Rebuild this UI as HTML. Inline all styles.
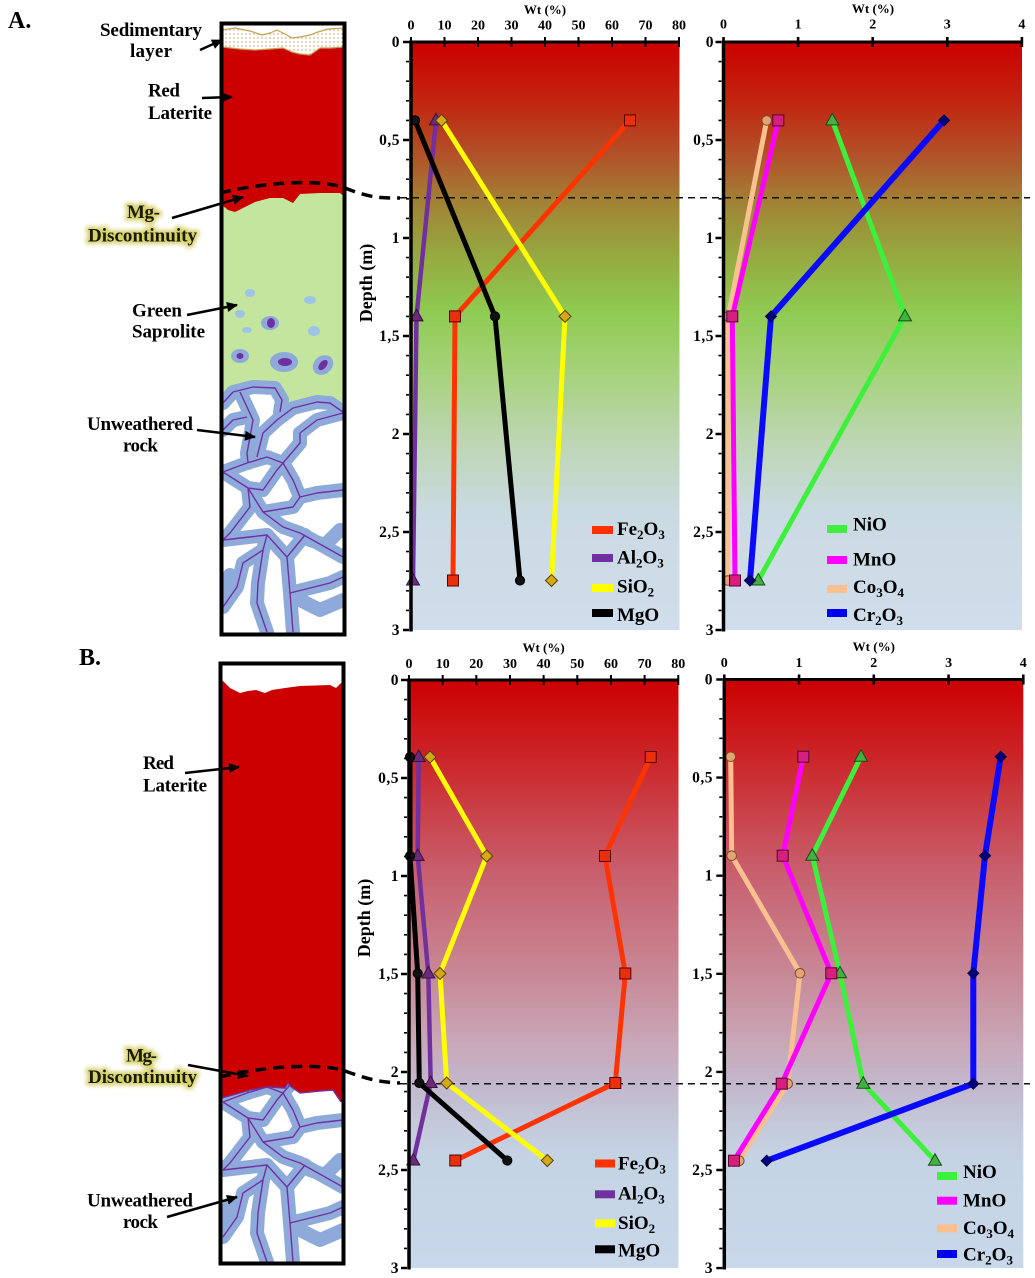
<!DOCTYPE html>
<html><head><meta charset="utf-8">
<style>
html,body{margin:0;padding:0;background:#fff;}
svg{display:block;}
text{font-family:"Liberation Serif","DejaVu Serif",serif;font-weight:bold;fill:#000;}
</style></head><body>
<svg width="1035" height="1278" viewBox="0 0 1035 1278" xmlns="http://www.w3.org/2000/svg">
<defs>
<linearGradient id="gA" x1="0" y1="0" x2="0" y2="1">
 <stop offset="0" stop-color="#cc0000"/>
 <stop offset="0.1" stop-color="#c22410"/>
 <stop offset="0.2" stop-color="#b0562a"/>
 <stop offset="0.28" stop-color="#a08636"/>
 <stop offset="0.36" stop-color="#96a83f"/>
 <stop offset="0.46" stop-color="#8fcb52"/>
 <stop offset="0.56" stop-color="#a6d27a"/>
 <stop offset="0.68" stop-color="#bdd6b4"/>
 <stop offset="0.8" stop-color="#cadae2"/>
 <stop offset="1" stop-color="#d0ddec"/>
</linearGradient>
<linearGradient id="gB" x1="0" y1="0" x2="0" y2="1">
 <stop offset="0" stop-color="#cc0000"/>
 <stop offset="0.15" stop-color="#cb2a2e"/>
 <stop offset="0.33" stop-color="#c8606e"/>
 <stop offset="0.5" stop-color="#c88896"/>
 <stop offset="0.62" stop-color="#c9a8b8"/>
 <stop offset="0.69" stop-color="#c2b8cc"/>
 <stop offset="0.76" stop-color="#c4cadc"/>
 <stop offset="0.82" stop-color="#c4d4e4"/>
 <stop offset="1" stop-color="#c8d8ea"/>
</linearGradient>
<pattern id="dots" width="4" height="4" patternUnits="userSpaceOnUse"><rect width="4" height="4" fill="#fffdf6"/><circle cx="2" cy="2" r="0.6" fill="#8a8070"/></pattern>
<filter id="glow" x="-20%" y="-60%" width="140%" height="220%"><feGaussianBlur stdDeviation="2.2"/></filter>
<clipPath id="clipA"><rect x="223" y="25" width="121" height="608"/></clipPath>
<clipPath id="clipB"><rect x="222" y="665" width="121" height="597"/></clipPath>

<marker id="arr" markerUnits="userSpaceOnUse" markerWidth="12" markerHeight="10" refX="10" refY="5" orient="auto" overflow="visible"><path d="M0,0 L11,5 L0,10 Z" fill="#000"/></marker>

<marker id="mFe" markerUnits="userSpaceOnUse" markerWidth="14" markerHeight="14" refX="7" refY="7" overflow="visible"><rect x="1.5" y="1.5" width="11" height="11" fill="#e8300f" stroke="#5a0000" stroke-width="1"/></marker>
<marker id="mAl" markerUnits="userSpaceOnUse" markerWidth="14" markerHeight="14" refX="7" refY="8" overflow="visible"><path d="M7,1 L13.5,12.5 L0.5,12.5 Z" fill="#6a2c7a" stroke="#3a1046" stroke-width="1"/></marker>
<marker id="mSi" markerUnits="userSpaceOnUse" markerWidth="14" markerHeight="14" refX="7" refY="7" overflow="visible"><path d="M7,1 L13,7 L7,13 L1,7 Z" fill="#d4a817" stroke="#5a4000" stroke-width="1"/></marker>
<marker id="mMg" markerUnits="userSpaceOnUse" markerWidth="14" markerHeight="14" refX="7" refY="7" overflow="visible"><circle cx="7" cy="7" r="4.6" fill="#111" stroke="#000" stroke-width="1"/></marker>
<marker id="mNi" markerUnits="userSpaceOnUse" markerWidth="14" markerHeight="14" refX="7" refY="8" overflow="visible"><path d="M7,1 L13.5,12.5 L0.5,12.5 Z" fill="#44b044" stroke="#105010" stroke-width="1"/></marker>
<marker id="mMn" markerUnits="userSpaceOnUse" markerWidth="14" markerHeight="14" refX="7" refY="7" overflow="visible"><rect x="1.5" y="1.5" width="11" height="11" fill="#d6207e" stroke="#5a0030" stroke-width="1"/></marker>
<marker id="mCo" markerUnits="userSpaceOnUse" markerWidth="14" markerHeight="14" refX="7" refY="7" overflow="visible"><circle cx="7" cy="7" r="4.8" fill="#e4a472" stroke="#7a4a28" stroke-width="1"/></marker>
<marker id="mCr" markerUnits="userSpaceOnUse" markerWidth="14" markerHeight="14" refX="7" refY="7" overflow="visible"><path d="M7,1.5 L12.5,7 L7,12.5 L1.5,7 Z" fill="#00007a" stroke="#000050" stroke-width="1"/></marker>

<g id="rock">
 <path d="M222,402 L235,389 L255,383 L275,386 L285,403 L300,399 L320,397 L335,401 L344,409 L344,634 L222,634 Z" fill="#ffffff"/>
 <g fill="none" stroke="#8eaadb" stroke-width="14" stroke-linecap="round" stroke-linejoin="round">
  <polyline points="223,403 233,392 253,387 275,388 282,400 280,412"/>
  <polyline points="240,392 247,407 253,420 250,437 247,453 248,463"/>
  <polyline points="223,430 233,420 247,417"/>
  <polyline points="257,457 263,433 277,420 293,408 317,402 330,403 343,412"/>
  <polyline points="300,433 317,420 343,413"/>
  <polyline points="283,463 300,443 300,433"/>
  <polyline points="223,472 247,463 267,457 283,463 277,470 263,490 248,488 223,472"/>
  <polyline points="283,463 293,480 300,497 293,507 263,512 248,488"/>
  <polyline points="300,497 317,493 343,490"/>
  <polyline points="248,488 250,507 240,520 230,533 223,540"/>
  <polyline points="263,512 283,527 300,533 343,557"/>
  <polyline points="223,540 267,535 287,557 290,593 330,583 343,577"/>
  <polyline points="267,535 263,550 243,563 237,587 223,607"/>
  <polyline points="287,557 305,535"/>
  <polyline points="263,550 258,583 257,603 267,632"/>
  <polyline points="290,593 293,632"/>
  <polyline points="223,590 230,575"/>
  <polyline points="310,540 325,545 340,530"/>
  <polyline points="300,600 320,610 343,600"/>
 </g>
 <g fill="none" stroke="#7030a0" stroke-width="1.4" stroke-linejoin="round">
  <polyline points="223,403 233,392 253,387 275,388 282,400 280,412"/>
  <polyline points="240,392 247,407 253,420 250,437 247,453 248,463"/>
  <polyline points="223,430 233,420 247,417"/>
  <polyline points="257,457 263,433 277,420 293,408 317,402 330,403 343,412"/>
  <polyline points="300,433 317,420 343,413"/>
  <polyline points="283,463 300,443 300,433"/>
  <polyline points="223,472 247,463 267,457 283,463 277,470 263,490 248,488 223,472"/>
  <polyline points="283,463 293,480 300,497 293,507 263,512 248,488"/>
  <polyline points="300,497 317,493 343,490"/>
  <polyline points="248,488 250,507 240,520 230,533 223,540"/>
  <polyline points="263,512 283,527 300,533 343,557"/>
  <polyline points="223,540 267,535 287,557 290,593 330,583 343,577"/>
  <polyline points="267,535 263,550 243,563 237,587 223,607"/>
  <polyline points="287,557 305,535"/>
  <polyline points="263,550 258,583 257,603 267,632"/>
  <polyline points="290,593 293,632"/>
 </g>
</g>
</defs>

<!-- ============ SCHEMATIC A ============ -->
<g clip-path="url(#clipA)">
 <rect x="222" y="24" width="123" height="612" fill="#fff"/>
 <rect x="222" y="188" width="123" height="448" fill="#c3e59e"/>
 <ellipse cx="250" cy="293" rx="5" ry="4" fill="#9dc3e6"/>
 <ellipse cx="310" cy="300" rx="6" ry="4" fill="#9dc3e6"/>
 <ellipse cx="240" cy="314" rx="5" ry="4" fill="#9dc3e6"/>
 <ellipse cx="247" cy="330" rx="5" ry="3" fill="#9dc3e6"/>
 <ellipse cx="314" cy="331" rx="6" ry="5" fill="#9dc3e6"/>
 <ellipse cx="270" cy="323" rx="9" ry="7" fill="#8eaadb"/>
 <ellipse cx="271" cy="323" rx="4" ry="5" fill="#7030a0"/>
 <ellipse cx="240" cy="356" rx="9" ry="7" fill="#8eaadb"/>
 <ellipse cx="240" cy="356" rx="3.5" ry="3" fill="#7030a0"/>
 <ellipse cx="284" cy="362" rx="14" ry="10" fill="#8eaadb"/>
 <ellipse cx="285" cy="362" rx="7" ry="4" fill="#7030a0"/>
 <ellipse cx="323" cy="365" rx="11" ry="9" fill="#8eaadb" transform="rotate(-40 323 365)"/>
 <ellipse cx="323" cy="365" rx="6" ry="3.5" fill="#7030a0" transform="rotate(-50 323 365)"/>
 <use href="#rock"/>
 <path d="M222,47 L240,49 L255,50 L270,49 L283,48 L292,52 L300,54 L310,55 L320,48 L330,48 L345,47 L345,197 L340,193 L320,193 L300,194 L293,203 L283,198 L270,198 L255,202 L245,207 L235,212 L228,210 L222,205 Z" fill="#cc0000"/>
 <path d="M222,30 L235,28 L250,31 L262,35 L270,33 L277,30 L285,34 L292,38 L300,37 L310,35 L318,32 L328,29 L345,28 L345,47 L330,48 L320,48 L310,55 L300,54 L292,52 L283,48 L270,49 L255,50 L240,49 L222,47 Z" fill="url(#dots)" stroke="#c8a050" stroke-width="1.2"/>
</g>
<rect x="221.5" y="23.5" width="123" height="611" fill="none" stroke="#000" stroke-width="4"/>

<!-- ============ SCHEMATIC B ============ -->
<g clip-path="url(#clipB)">
 <rect x="222" y="664" width="123" height="600" fill="#fff"/>
 <use href="#rock" transform="translate(0,630)"/>
 <path d="M222,680 L230,688 L240,693 L248,691 L256,690 L265,693 L272,690 L285,688 L300,686 L330,685 L336,688 L341,683 L345,684 L345,1102 L341,1102 L333,1090 L320,1091 L300,1093 L290,1086 L288,1082 L285,1088 L268,1087 L250,1090 L240,1093 L222,1098 Z" fill="#cc0000"/>
 <polyline points="222,1098 240,1093 250,1090 268,1087 285,1088 288,1083 290,1086 300,1093 320,1091 333,1090 341,1102" fill="none" stroke="#7030a0" stroke-width="1.4"/>
</g>
<rect x="220.5" y="663.5" width="123" height="600" fill="none" stroke="#000" stroke-width="4"/>

<path d="M220,193 C260,183 320,178 345,188 S380,198 400,198" fill="none" stroke="#000" stroke-width="3.5" stroke-dasharray="11 7"/>
<path d="M220,1077 C260,1067 320,1062 345,1071 S380,1082 400,1083" fill="none" stroke="#000" stroke-width="3.5" stroke-dasharray="11 7"/>

<!-- labels A -->
<text x="8" y="28" font-size="24">A.</text>
<text x="100" y="36" font-size="19" textLength="102">Sedimentary</text>
<text x="130" y="57" font-size="19" textLength="42">layer</text>
<text x="148" y="96.5" font-size="19" textLength="32">Red</text>
<text x="148" y="119" font-size="19" textLength="64">Laterite</text>
<g stroke="#d2cc5a" stroke-width="5" fill="#d2cc5a" filter="url(#glow)" opacity="0.9">
 <text x="127" y="218" font-size="19" textLength="33" style="fill:#d2cc5a">Mg-</text>
 <text x="88" y="241.5" font-size="19" textLength="109" style="fill:#d2cc5a">Discontinuity</text>
 <text x="126" y="1061.5" font-size="19" textLength="31" style="fill:#d2cc5a">Mg-</text>
 <text x="88" y="1083" font-size="19" textLength="109" style="fill:#d2cc5a">Discontinuity</text>
</g>
<text x="127" y="218" font-size="19" textLength="33" style="fill:#1a1a00">Mg-</text>
<text x="88" y="241.5" font-size="19" textLength="109" style="fill:#1a1a00">Discontinuity</text>
<text x="132" y="316.5" font-size="19" textLength="50">Green</text>
<text x="132" y="337.5" font-size="19" textLength="73">Saprolite</text>
<text x="87" y="430" font-size="19" textLength="106">Unweathered</text>
<text x="123" y="451.5" font-size="19" textLength="35">rock</text>
<g stroke="#000" stroke-width="2.5" marker-end="url(#arr)">
 <line x1="200" y1="50" x2="222" y2="40"/>
 <line x1="202" y1="98" x2="232" y2="97"/>
 <line x1="172" y1="218" x2="243" y2="197"/>
 <line x1="187" y1="315" x2="237" y2="305"/>
 <line x1="197" y1="430" x2="255" y2="437"/>
</g>

<!-- labels B -->
<text x="79" y="665" font-size="24">B.</text>
<text x="143" y="769" font-size="19" textLength="31">Red</text>
<text x="143" y="791.5" font-size="19" textLength="64">Laterite</text>
<text x="126" y="1061.5" font-size="19" textLength="31" style="fill:#1a1a00">Mg-</text>
<text x="88" y="1083" font-size="19" textLength="109" style="fill:#1a1a00">Discontinuity</text>
<text x="87" y="1206.5" font-size="19" textLength="106">Unweathered</text>
<text x="123" y="1228" font-size="19" textLength="35">rock</text>
<g stroke="#000" stroke-width="2.5" marker-end="url(#arr)">
 <line x1="185" y1="773" x2="239" y2="767"/>
 <line x1="188" y1="1065" x2="248" y2="1076"/>
 <line x1="167" y1="1217" x2="237" y2="1197"/>
</g>

<!-- ============ CHART BACKGROUNDS ============ -->
<rect x="411" y="42" width="268.5" height="588" fill="url(#gA)"/>
<rect x="723.5" y="42" width="298.5" height="588" fill="url(#gA)"/>
<rect x="409" y="680" width="269.5" height="588" fill="url(#gB)"/>
<rect x="724.3" y="679.5" width="299" height="588.5" fill="url(#gB)"/>

<line x1="400" y1="197.7" x2="1030" y2="197.7" stroke="#111" stroke-width="1.5" stroke-dasharray="7 5"/>
<line x1="400" y1="1083.7" x2="1030" y2="1083.7" stroke="#111" stroke-width="1.5" stroke-dasharray="7 5"/>

<!-- ============ SERIES A1 ============ -->
<g fill="none" stroke-linejoin="round" stroke-linecap="round">
 <polyline points="630,120.4 455,316.4 453,580.5" stroke="#ff3300" stroke-width="5" marker-start="url(#mFe)" marker-mid="url(#mFe)" marker-end="url(#mFe)"/>
 <polyline points="436,120.4 416.5,316.4 413,580.5" stroke="#7030a0" stroke-width="4.5" marker-start="url(#mAl)" marker-mid="url(#mAl)" marker-end="url(#mAl)"/>
 <polyline points="441.5,120.4 565,316.4 551.5,580.5" stroke="#ffff00" stroke-width="5" marker-start="url(#mSi)" marker-mid="url(#mSi)" marker-end="url(#mSi)"/>
 <polyline points="415,120.4 495,316.4 520,580.5" stroke="#000" stroke-width="5" marker-start="url(#mMg)" marker-mid="url(#mMg)" marker-end="url(#mMg)"/>
</g>
<!-- ============ SERIES A2 ============ -->
<g fill="none" stroke-linejoin="round" stroke-linecap="round">
 <polyline points="832.3,120.4 905,316.4 758.3,580.5" stroke="#3cf03c" stroke-width="5" marker-start="url(#mNi)" marker-mid="url(#mNi)" marker-end="url(#mNi)"/>
 <polyline points="766.7,120.4 728.3,316.4 727.7,580.5" stroke="#fac090" stroke-width="5" marker-start="url(#mCo)" marker-mid="url(#mCo)" marker-end="url(#mCo)"/>
 <polyline points="778.3,120.4 732.3,316.4 735,580.5" stroke="#ff00ff" stroke-width="5" marker-start="url(#mMn)" marker-mid="url(#mMn)" marker-end="url(#mMn)"/>
 <polyline points="944,120.4 771,316.4 750,580.5" stroke="#0a0aff" stroke-width="6" marker-start="url(#mCr)" marker-mid="url(#mCr)" marker-end="url(#mCr)"/>
</g>
<!-- ============ SERIES B1 ============ -->
<g fill="none" stroke-linejoin="round" stroke-linecap="round">
 <polyline points="650.7,757 605,856 625.3,973.5 615.3,1083 455.3,1160.5" stroke="#ff3300" stroke-width="5" marker-start="url(#mFe)" marker-mid="url(#mFe)" marker-end="url(#mFe)"/>
 <polyline points="418.7,757 417.7,856 428.3,973.5 430.7,1083 413.3,1160.5" stroke="#7030a0" stroke-width="4.5" marker-start="url(#mAl)" marker-mid="url(#mAl)" marker-end="url(#mAl)"/>
 <polyline points="430,757 486.7,856 440,973.5 446.7,1083 547.3,1160.5" stroke="#ffff00" stroke-width="5" marker-start="url(#mSi)" marker-mid="url(#mSi)" marker-end="url(#mSi)"/>
 <polyline points="410,757 410,856 417.7,973.5 419.3,1083 507.3,1160.5" stroke="#000" stroke-width="5" marker-start="url(#mMg)" marker-mid="url(#mMg)" marker-end="url(#mMg)"/>
</g>
<!-- ============ SERIES B2 ============ -->
<g fill="none" stroke-linejoin="round" stroke-linecap="round">
 <polyline points="861,756.7 812.3,855.7 840,973.3 863.3,1083.7 935,1160.7" stroke="#3cf03c" stroke-width="5" marker-start="url(#mNi)" marker-mid="url(#mNi)" marker-end="url(#mNi)"/>
 <polyline points="730.7,756.7 731.7,855.7 800,973.3 787.7,1083.7 739.3,1160.7" stroke="#fac090" stroke-width="5" marker-start="url(#mCo)" marker-mid="url(#mCo)" marker-end="url(#mCo)"/>
 <polyline points="803.3,756.7 782.7,855.7 831.3,973.3 781.7,1083.7 734,1160.7" stroke="#ff00ff" stroke-width="5" marker-start="url(#mMn)" marker-mid="url(#mMn)" marker-end="url(#mMn)"/>
 <polyline points="1000.7,756.7 985,855.7 973.3,973.3 973.3,1083.7 766.7,1160.7" stroke="#0a0aff" stroke-width="6" marker-start="url(#mCr)" marker-mid="url(#mCr)" marker-end="url(#mCr)"/>
</g>

<!-- ============ AXES ============ -->
<g stroke="#000" fill="none">
 <line x1="409" y1="42" x2="680" y2="42" stroke-width="3"/>
 <line x1="410" y1="42" x2="682" y2="42" stroke-width="10" stroke-dasharray="2 31.5"/>
 <line x1="411" y1="40.5" x2="411" y2="631.5" stroke-width="3.5"/>
 <line x1="407.5" y1="41.2" x2="407.5" y2="632" stroke-width="3" stroke-dasharray="1.6 18"/>
 <line x1="406" y1="40.8" x2="406" y2="632" stroke-width="6" stroke-dasharray="2.4 95.6"/>
 <line x1="722" y1="42" x2="1023" y2="42" stroke-width="3"/>
 <line x1="722.2" y1="42" x2="1025" y2="42" stroke-width="10" stroke-dasharray="2.6 72"/>
 <line x1="723.5" y1="40.5" x2="723.5" y2="631.5" stroke-width="3.5"/>
 <line x1="720" y1="41.2" x2="720" y2="632" stroke-width="3" stroke-dasharray="1.6 18"/>
 <line x1="718.5" y1="40.8" x2="718.5" y2="632" stroke-width="6" stroke-dasharray="2.4 95.6"/>
 <line x1="407" y1="680" x2="679" y2="680" stroke-width="3"/>
 <line x1="408" y1="680" x2="681" y2="680" stroke-width="10" stroke-dasharray="2 31.66"/>
 <line x1="409" y1="678.5" x2="409" y2="1269.5" stroke-width="3.5"/>
 <line x1="405.5" y1="679.2" x2="405.5" y2="1270" stroke-width="3" stroke-dasharray="1.6 18"/>
 <line x1="404" y1="678.8" x2="404" y2="1270" stroke-width="6" stroke-dasharray="2.4 95.6"/>
 <line x1="723" y1="679.5" x2="1024" y2="679.5" stroke-width="3"/>
 <line x1="723" y1="679.5" x2="1026" y2="679.5" stroke-width="10" stroke-dasharray="2.6 72.15"/>
 <line x1="724.3" y1="678" x2="724.3" y2="1269.5" stroke-width="3.5"/>
 <line x1="720.8" y1="678.7" x2="720.8" y2="1270" stroke-width="3" stroke-dasharray="1.6 18.02"/>
 <line x1="719.3" y1="678.3" x2="719.3" y2="1270" stroke-width="6" stroke-dasharray="2.4 95.7"/>
</g>

<text x="545" y="14" font-size="13" text-anchor="middle">Wt (%)</text>
<text x="873" y="13" font-size="13" text-anchor="middle">Wt (%)</text>
<text x="543.6" y="652" font-size="13" text-anchor="middle">Wt (%)</text>
<text x="873.8" y="651" font-size="13" text-anchor="middle">Wt (%)</text>
<text transform="translate(366,283) rotate(-90)" font-size="18" text-anchor="middle" dominant-baseline="central">Depth (m)</text>
<text transform="translate(364,918) rotate(-90)" font-size="18" text-anchor="middle" dominant-baseline="central">Depth (m)</text>

<g font-size="14" text-anchor="middle">
 <text x="411" y="29.5">0</text><text x="444.5" y="29.5">10</text><text x="478" y="29.5">20</text><text x="511.5" y="29.5">30</text><text x="545" y="29.5">40</text><text x="578.5" y="29.5">50</text><text x="612" y="29.5">60</text><text x="645.5" y="29.5">70</text><text x="679" y="29.5">80</text>
 <text x="723.5" y="28.5">0</text><text x="798.1" y="28.5">1</text><text x="872.7" y="28.5">2</text><text x="947.3" y="28.5">3</text><text x="1021.9" y="28.5">4</text>
 <text x="409" y="668">0</text><text x="442.7" y="668">10</text><text x="476.3" y="668">20</text><text x="510" y="668">30</text><text x="543.6" y="668">40</text><text x="577.3" y="668">50</text><text x="611" y="668">60</text><text x="644.6" y="668">70</text><text x="678.3" y="668">80</text>
 <text x="724.3" y="667">0</text><text x="799" y="667">1</text><text x="873.8" y="667">2</text><text x="948.6" y="667">3</text><text x="1023.3" y="667">4</text>
</g>
<g font-size="15.5" text-anchor="end" letter-spacing="0.5">
 <text x="400" y="47">0</text><text x="400" y="145">0,5</text><text x="400" y="243">1</text><text x="400" y="341">1,5</text><text x="400" y="439">2</text><text x="400" y="537">2,5</text><text x="400" y="635">3</text>
 <text x="714" y="47">0</text><text x="714" y="145">0,5</text><text x="714" y="243">1</text><text x="714" y="341">1,5</text><text x="714" y="439">2</text><text x="714" y="537">2,5</text><text x="714" y="635">3</text>
 <text x="399" y="685">0</text><text x="399" y="783">0,5</text><text x="399" y="881">1</text><text x="399" y="979">1,5</text><text x="399" y="1077">2</text><text x="399" y="1175">2,5</text><text x="399" y="1273">3</text>
 <text x="713" y="684.5">0</text><text x="713" y="782.6">0,5</text><text x="713" y="880.7">1</text><text x="713" y="978.8">1,5</text><text x="713" y="1076.9">2</text><text x="713" y="1175">2,5</text><text x="713" y="1273">3</text>
</g>

<g font-size="19">
 <rect x="592" y="526" width="21" height="8" fill="#ff3300"/>
 <text x="617" y="535">Fe<tspan font-size="13" dy="4">2</tspan><tspan dy="-4">O</tspan><tspan font-size="13" dy="4">3</tspan></text>
 <rect x="592" y="554" width="21" height="8" fill="#7030a0"/>
 <text x="617" y="563.5">Al<tspan font-size="13" dy="4">2</tspan><tspan dy="-4">O</tspan><tspan font-size="13" dy="4">3</tspan></text>
 <rect x="592" y="584" width="21" height="8" fill="#ffff00"/>
 <text x="617" y="592.5">SiO<tspan font-size="13" dy="4">2</tspan></text>
 <rect x="592" y="609" width="21" height="8" fill="#000"/>
 <text x="617" y="621">MgO</text>
 <rect x="827" y="525" width="20" height="8" fill="#3cf03c"/>
 <text x="853" y="530.5">NiO</text>
 <rect x="827" y="556" width="20" height="8" fill="#ff00ff"/>
 <text x="853" y="565.5">MnO</text>
 <rect x="827" y="585" width="20" height="8" fill="#fac090"/>
 <text x="853" y="593">Co<tspan font-size="13" dy="4">3</tspan><tspan dy="-4">O</tspan><tspan font-size="13" dy="4">4</tspan></text>
 <rect x="827" y="609" width="20" height="8" fill="#0000ee"/>
 <text x="853" y="621">Cr<tspan font-size="13" dy="4">2</tspan><tspan dy="-4">O</tspan><tspan font-size="13" dy="4">3</tspan></text>
 <rect x="595" y="1159.5" width="20" height="8" fill="#ff3300"/>
 <text x="618" y="1169.5">Fe<tspan font-size="13" dy="4">2</tspan><tspan dy="-4">O</tspan><tspan font-size="13" dy="4">3</tspan></text>
 <rect x="595" y="1190.3" width="20" height="8" fill="#7030a0"/>
 <text x="618" y="1199.5">Al<tspan font-size="13" dy="4">2</tspan><tspan dy="-4">O</tspan><tspan font-size="13" dy="4">3</tspan></text>
 <rect x="595" y="1219.3" width="20" height="8" fill="#ffff00"/>
 <text x="618" y="1229">SiO<tspan font-size="13" dy="4">2</tspan></text>
 <rect x="595" y="1245.3" width="20" height="8" fill="#000"/>
 <text x="618" y="1256.5">MgO</text>
 <rect x="937" y="1172" width="20" height="8" fill="#3cf03c"/>
 <text x="963" y="1178">NiO</text>
 <rect x="937" y="1196.7" width="20" height="8" fill="#ff00ff"/>
 <text x="963" y="1206.5">MnO</text>
 <rect x="937" y="1224.3" width="20" height="8" fill="#fac090"/>
 <text x="963" y="1234">Co<tspan font-size="13" dy="4">3</tspan><tspan dy="-4">O</tspan><tspan font-size="13" dy="4">4</tspan></text>
 <rect x="937" y="1250" width="20" height="8" fill="#0000ee"/>
 <text x="963" y="1260.5">Cr<tspan font-size="13" dy="4">2</tspan><tspan dy="-4">O</tspan><tspan font-size="13" dy="4">3</tspan></text>
</g>
</svg>
</body></html>
